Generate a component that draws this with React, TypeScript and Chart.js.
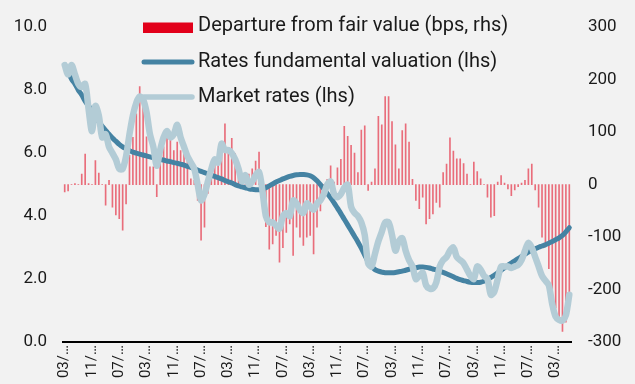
import { useEffect, useRef } from 'react';
import { Chart, registerables } from 'chart.js';

Chart.register(...registerables);

// ---- Data ----
const START_YEAR = 2010;
const START_MONTH = 3;
const N_MONTHS = 149;
const CATEGORIES: string[] = Array.from({ length: N_MONTHS }, (_, i) => {
  const k = START_MONTH - 1 + i;
  const m = (k % 12) + 1;
  const y = START_YEAR + Math.floor(k / 12);
  return `${String(m).padStart(2, '0')}/${y}`;
});

const TICK_EVERY = 8;
const TICK_LABELS = [
  '03/…', '11/…', '07/…', '03/…', '11/…', '07/…', '03/…', '11/…', '07/…', '03/…',
  '11/…', '07/…', '03/…', '11/…', '07/…', '03/…', '11/…', '07/…', '03/…',
];

const LEFT_TICKS = [0, 2, 4, 6, 8, 10];
const RIGHT_TICKS = [-300, -200, -100, 0, 100, 200, 300];

const SERIES_NAMES = [
  'Departure from fair value (bps, rhs)',
  'Rates fundamental valuation (lhs)',
  'Market rates (lhs)',
];

const DEPARTURE = [
  -14, -12, 0, 2, 0, 20, 58, 2, 0, 46,
  22, 0, -39, 8, -43, -58, -65, -87, -37, 56,
  90, 135, 187, 160, 91, 34, 34, -23, 40, 72,
  88, 94, 65, 81, 65, 60, 53, 11, 8, -30,
  -106, -81, -17, 30, 46, 46, 80, 116, 69, 88,
  59, 30, 8, -4, 20, 30, 45, 62, 10, -80,
  -123, -113, -97, -148, -120, -91, -75, -135, -81, -100,
  -116, -100, -97, -132, -81, -50, -10, 10, 36, 5,
  32, 48, 111, 92, 75, 60, 23, 104, 112, -11,
  5, 30, 130, 114, 168, 168, 120, 76, 30, 103,
  116, 81, 10, -30, -46, -24, -75, -65, -56, -34,
  -43, 23, 39, 89, 64, 49, 49, 40, 20, 0,
  43, 25, 11, 0, -24, -62, -59, 5, 17, 3,
  -8, -21, -10, -4, 3, 8, 30, 39, -10, -43,
  -100, -119, -160, -200, -235, -255, -280, -262, -205,
];

const FUNDAMENTAL = [
  8.8, 8.6, 8.35, 8.2, 8.0, 7.85, 7.65, 7.5, 7.35, 7.15,
  7.0, 6.85, 6.72, 6.6, 6.48, 6.38, 6.28, 6.2, 6.14, 6.08,
  6.03, 6.0, 5.97, 5.94, 5.91, 5.88, 5.86, 5.83, 5.8, 5.78,
  5.75, 5.73, 5.7, 5.68, 5.65, 5.62, 5.58, 5.55, 5.5, 5.46,
  5.42, 5.38, 5.34, 5.3, 5.26, 5.22, 5.18, 5.13, 5.09, 5.05,
  5.0, 4.96, 4.93, 4.9, 4.87, 4.85, 4.84, 4.84, 4.86, 4.9,
  4.96, 5.02, 5.08, 5.13, 5.18, 5.22, 5.26, 5.29, 5.31, 5.32,
  5.32, 5.31, 5.28, 5.22, 5.12, 5.0, 4.86, 4.72, 4.58, 4.42,
  4.25, 4.08, 3.9, 3.72, 3.54, 3.36, 3.18, 2.98, 2.76, 2.55,
  2.4, 2.3, 2.25, 2.22, 2.2, 2.2, 2.2, 2.21, 2.23, 2.25,
  2.28, 2.31, 2.34, 2.36, 2.38, 2.38, 2.37, 2.35, 2.32, 2.29,
  2.25, 2.21, 2.17, 2.12, 2.07, 2.02, 1.98, 1.95, 1.92, 1.9,
  1.89, 1.89, 1.9, 1.93, 1.98, 2.05, 2.12, 2.2, 2.28, 2.36,
  2.44, 2.51, 2.58, 2.65, 2.72, 2.79, 2.86, 2.91, 2.96, 3.01,
  3.05, 3.09, 3.14, 3.19, 3.25, 3.31, 3.39, 3.5, 3.63,
];

const MARKET = [
  8.8, 8.5, 8.8, 8.5, 8.2, 8.1, 8.2, 7.4, 6.7, 7.5,
  7.2, 6.5, 6.6, 6.2, 6.0, 5.8, 5.5, 5.5, 5.9, 6.6,
  7.2, 7.6, 7.8, 7.7, 7.3, 6.6, 6.2, 5.6, 6.1, 6.5,
  6.7, 6.5, 6.6, 6.9, 6.5, 6.2, 5.9, 5.7, 5.5, 5.0,
  4.5, 4.7, 5.1, 5.5, 5.8, 5.7, 6.3, 6.1, 6.1, 6.0,
  5.8, 5.5, 5.1, 5.3, 5.0, 5.1, 5.3, 5.4, 4.8, 4.0,
  3.8, 3.8, 3.7, 3.6, 4.0, 4.1, 4.0, 4.5, 4.4, 4.2,
  4.1, 4.4, 4.3, 4.2, 4.4, 4.5, 4.7, 5.0, 5.1, 4.7,
  4.6, 4.7, 4.9, 5.0, 4.3, 4.1, 4.0, 3.8, 3.4, 2.5,
  2.4, 2.8, 3.2, 3.5, 3.8, 3.8, 3.4, 2.9, 3.2, 3.3,
  2.9, 2.6, 2.4, 2.0, 2.1, 2.2, 1.8, 1.7, 1.7, 1.9,
  2.4, 2.6, 2.7, 2.9, 3.0, 2.7, 2.6, 2.5, 2.3, 2.1,
  2.0, 2.4, 2.3, 2.1, 2.0, 1.5, 1.6, 2.0, 2.4, 2.4,
  2.4, 2.35, 2.4, 2.45, 2.6, 2.9, 3.15, 3.0, 2.7, 2.4,
  2.1, 1.95, 1.8, 1.2, 0.8, 0.7, 0.68, 0.85, 1.5,
];

// ---- Styles ----
const BAR_COLOR = 'rgba(226, 0, 26, 0.55)';
const LEGEND_BAR_COLOR = '#e2001a';
const FUND_COLOR = '#4583a3';
const MARKET_COLOR = '#b3ccd6';
const TEXT_COLOR = '#1a1a1a';
const BG = '#f2f2f2';
const FONT = 'Roboto';

const legendPlugin = {
  id: 'overlayLegend',
  afterDraw(chart: any) {
    const ctx = chart.ctx as CanvasRenderingContext2D;
    const ds = chart.data.datasets;
    const x0 = 143;
    const x1 = 193;
    const tx = 198;
    const ys = [26, 62, 97];
    ctx.save();
    ctx.font = `20px ${FONT}`;
    ctx.textBaseline = 'middle';
    ctx.textAlign = 'left';
    ctx.fillStyle = LEGEND_BAR_COLOR;
    ctx.fillRect(x0, ys[0] - 3.5, x1 - x0, 10.5);
    [1, 2].forEach((k) => {
      ctx.beginPath();
      ctx.lineCap = 'round';
      ctx.strokeStyle = ds[k].borderColor;
      ctx.lineWidth = k === 1 ? 5 : 5.5;
      ctx.moveTo(x0 + 1, ys[k]);
      ctx.lineTo(x1 - 1, ys[k]);
      ctx.stroke();
    });
    ctx.fillStyle = TEXT_COLOR;
    ds.forEach((d: any, k: number) => {
      ctx.fillText(d.label, tx, ys[k]);
    });
    ctx.restore();
  },
};

export default function App() {
  const ref = useRef<HTMLCanvasElement | null>(null);

  useEffect(() => {
    document.body.style.margin = '0';
    document.body.style.background = BG;
    const canvas = ref.current;
    if (!canvas) return;
    const chart = new Chart(canvas, {
      type: 'bar',
      data: {
        labels: CATEGORIES,
        datasets: [
          {
            type: 'bar',
            label: SERIES_NAMES[0],
            data: DEPARTURE,
            yAxisID: 'y2',
            backgroundColor: BAR_COLOR,
            barThickness: 1,
            order: 3,
          },
          {
            type: 'line',
            label: SERIES_NAMES[1],
            data: FUNDAMENTAL,
            yAxisID: 'y',
            borderColor: FUND_COLOR,
            borderWidth: 5,
            pointRadius: 0,
            tension: 0.4,
            borderCapStyle: 'round',
            borderJoinStyle: 'round',
            order: 2,
          },
          {
            type: 'line',
            label: SERIES_NAMES[2],
            data: MARKET,
            yAxisID: 'y',
            borderColor: MARKET_COLOR,
            borderWidth: 6.5,
            pointRadius: 0,
            tension: 0.3,
            borderCapStyle: 'round',
            borderJoinStyle: 'round',
            order: 1,
          },
        ],
      } as any,
      options: {
        animation: false,
        responsive: false,
        devicePixelRatio: 1,
        layout: { padding: { top: 27, left: 0, right: 0, bottom: 0 } },
        plugins: { legend: { display: false }, tooltip: { enabled: false } },
        scales: {
          x: {
            type: 'category',
            offset: true,
            grid: { display: false, drawTicks: false },
            border: { display: true, color: '#000000', width: 2 },
            ticks: {
              autoSkip: false,
              maxRotation: 90,
              minRotation: 90,
              padding: 3,
              color: TEXT_COLOR,
              font: { family: FONT, size: 15 },
              callback: (_v: any, index: number) =>
                index % TICK_EVERY === 0 ? TICK_LABELS[index / TICK_EVERY] : null,
            },
            afterFit: (s: any) => {
              s.height = 42;
            },
          },
          y: {
            position: 'left',
            min: LEFT_TICKS[0],
            max: LEFT_TICKS[LEFT_TICKS.length - 1],
            grid: { display: false, drawTicks: false },
            border: { display: false },
            ticks: {
              stepSize: 2,
              padding: 16,
              color: TEXT_COLOR,
              font: { family: FONT, size: 17 },
              callback: (v: any) => Number(v).toFixed(1),
            },
            afterFit: (s: any) => {
              s.width = 63;
            },
          },
          y2: {
            position: 'right',
            min: RIGHT_TICKS[0],
            max: RIGHT_TICKS[RIGHT_TICKS.length - 1],
            grid: { display: false, drawTicks: false },
            border: { display: false },
            ticks: {
              stepSize: 100,
              padding: 17,
              color: TEXT_COLOR,
              font: { family: FONT, size: 17 },
              callback: (v: any) => String(v),
            },
            afterFit: (s: any) => {
              s.width = 64;
            },
          },
        },
      } as any,
      plugins: [legendPlugin],
    });
    return () => chart.destroy();
  }, []);

  return (
    <div style={{ width: 635, height: 384, background: BG }}>
      <canvas ref={ref} width={635} height={384} style={{ display: 'block', width: 635, height: 384 }} />
    </div>
  );
}
